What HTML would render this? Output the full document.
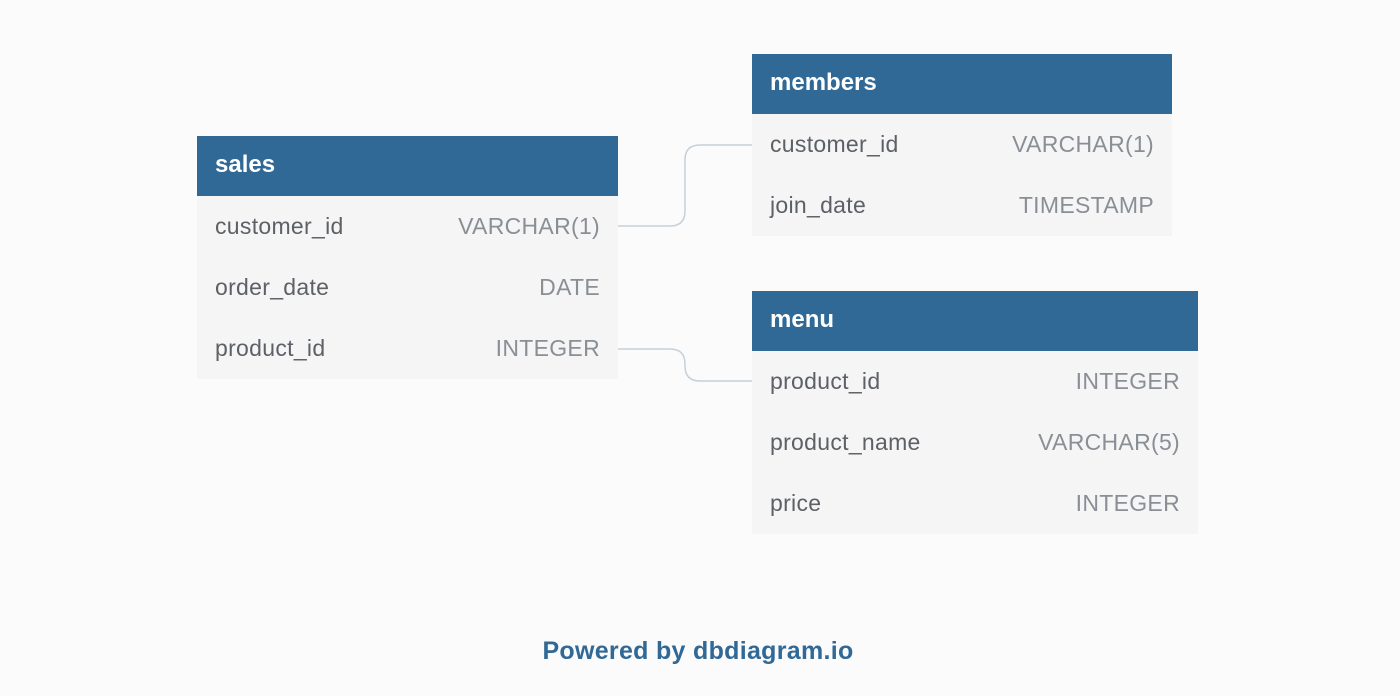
<!DOCTYPE html>
<html><head><style>
body{margin:0;width:1400px;height:696px;background:#fbfbfb;position:relative;overflow:hidden;font-family:"Liberation Sans","DejaVu Sans",sans-serif;}
.t{position:absolute;background:#f5f5f5;}
.h{height:60px;background:#306896;color:#fff;font-weight:bold;font-size:24px;line-height:58px;padding-left:18px;box-sizing:border-box;}
.r{height:61px;line-height:61px;font-size:23px;color:#5d6166;padding:0 18px;position:relative;letter-spacing:0.3px;}
.r span{position:absolute;right:18px;color:#8a8f96;}
.f{position:absolute;left:0;width:1396px;text-align:center;top:637px;font-size:25px;font-weight:bold;color:#306896;letter-spacing:0.3px;}
</style></head><body>
<svg width="1400" height="696" style="position:absolute;left:0;top:0">
<path d="M618 226 H670 Q685 226 685 211 V160 Q685 145 700 145 H752" fill="none" stroke="#c5d0da" stroke-width="1.5"/>
<path d="M618 349 H670 Q685 349 685 364 V366 Q685 381 700 381 H752" fill="none" stroke="#c5d0da" stroke-width="1.5"/>
</svg>
<div class="t" style="left:197px;top:136px;width:421px">
<div class="h">sales</div>
<div class="r">customer_id<span>VARCHAR(1)</span></div>
<div class="r">order_date<span>DATE</span></div>
<div class="r">product_id<span>INTEGER</span></div>
</div>
<div class="t" style="left:752px;top:54px;width:420px">
<div class="h">members</div>
<div class="r">customer_id<span>VARCHAR(1)</span></div>
<div class="r">join_date<span>TIMESTAMP</span></div>
</div>
<div class="t" style="left:752px;top:291px;width:446px">
<div class="h">menu</div>
<div class="r">product_id<span>INTEGER</span></div>
<div class="r">product_name<span>VARCHAR(5)</span></div>
<div class="r">price<span>INTEGER</span></div>
</div>
<div class="f">Powered by dbdiagram.io</div>
</body></html>
